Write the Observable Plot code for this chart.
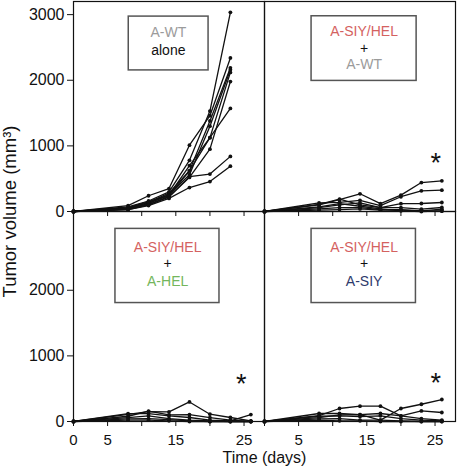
<!DOCTYPE html>
<html><head><meta charset="utf-8">
<script src="https://cdn.jsdelivr.net/npm/d3@7"></script>
<script src="https://cdn.jsdelivr.net/npm/@observablehq/plot@0.6"></script>
<style>
body{margin:0;background:#fff}
#chart svg{font-family:"Liberation Sans",Arial,Helvetica,sans-serif;overflow:visible}
</style>
</head><body><div id="chart"></div>
<script>
// ---- data ----
const panelCols = ["left", "right", "left", "right"];
const panelRows = ["top", "top", "bottom", "bottom"];
const daysWT = [0, 8, 11, 14, 17, 20, 23];
const daysMix = [0, 8, 11, 14, 17, 20, 23, 26];
const volWTalone = [
  [0, 70, 160, 300, 780, 1530, 3035],
  [0, 90, 240, 350, 1010, 1460, 2340],
  [0, 50, 140, 280, 620, 1380, 2190],
  [0, 40, 120, 260, 560, 1300, 2160],
  [0, 60, 150, 250, 700, 1125, 2120],
  [0, 30, 100, 220, 520, 950, 1980],
  [0, 50, 130, 240, 620, 1125, 1570],
  [0, 40, 110, 230, 530, 570, 840],
  [0, 30, 90, 200, 365, 456, 690]
];
const volPlusWT = [
  [0, 100, 180, 270, 120, 250, 441, 467],
  [0, 130, 140, 170, 90, 225, 315, 325],
  [0, 60, 100, 130, 60, 120, 122, 137],
  [0, 110, 190, 100, 60, 60, 36, 61],
  [0, 40, 60, 60, 30, 30, 10, 36],
  [0, 20, 30, 40, 20, 20, 10, 5],
  [0, 70, 120, 80, 40, 10, 0, 10]
];
const volPlusHEL = [
  [0, 110, 150, 146, 298, 111, 61, 10],
  [0, 80, 157, 100, 106, 60, 20, 0],
  [0, 120, 120, 86, 61, 20, 10, 106],
  [0, 60, 86, 45, 20, 10, 0, 0],
  [0, 40, 45, 30, 10, 0, 0, 0],
  [0, 20, 20, 10, 0, 0, 0, 0]
];
const volPlusSIY = [
  [0, 90, 198, 233, 233, 86, 45, 20],
  [0, 60, 100, 106, 20, 198, 263, 335],
  [0, 122, 122, 106, 122, 86, 161, 137],
  [0, 80, 86, 75, 86, 45, 20, 10],
  [0, 40, 45, 20, 20, 10, 0, 0],
  [0, 20, 10, 10, 0, 0, 0, 0]
];
const panelDays = [daysWT, daysMix, daysMix, daysMix];
const panelVols = [volWTalone, volPlusWT, volPlusHEL, volPlusSIY];

const yTicksTop = [0, 1000, 2000, 3000];
const yTicksBottom = [0, 1000, 2000];
const xTicks = [0, 5, 10, 15, 20, 25];
const xLabelsLeft = [0, 5, 15, 25];
const xLabelsRight = [5, 15, 25];

const legendTexts = [
  [["A-WT", "#9b9b9b"], ["alone", "#111"]],
  [["A-SIY/HEL", "#d4625f"], ["+", "#111"], ["A-WT", "#9b9b9b"]],
  [["A-SIY/HEL", "#d4625f"], ["+", "#111"], ["A-HEL", "#74b65c"]],
  [["A-SIY/HEL", "#d4625f"], ["+", "#111"], ["A-SIY", "#2e3a6c"]]
];
const starPanels = [1, 2, 3];

// ---- annotation layout (data units) ----
const legendBoxLayout = [
  {x1: 8.1, x2: 19.8, y1: 2150, y2: 2970, cx: 13.9, ys: [2720, 2460]},
  {x1: 6.9, x2: 22.3, y1: 1990, y2: 2975, cx: 14.6, ys: [2745, 2490, 2235]},
  {x1: 6.15, x2: 21.4, y1: 1805, y2: 2935, cx: 13.8, ys: [2655, 2400, 2135]},
  {x1: 6.9, x2: 22.2, y1: 1805, y2: 2935, cx: 14.6, ys: [2655, 2400, 2135]}
];
const starLayout = {1: [25.1, 730], 2: [24.6, 565], 3: [25.1, 580]};

// ---- build tables ----
const rows = [];
panelVols.forEach((mice, p) => {
  mice.forEach((vals, m) => {
    vals.forEach((v, i) => rows.push({
      panel: p, mouse: m, col: panelCols[p], row: panelRows[p],
      day: panelDays[p][i], volume: v
    }));
  });
});
const boxes = legendBoxLayout.map((b, p) => ({...b, col: panelCols[p], row: panelRows[p]}));
const legendLines = [];
legendTexts.forEach((lines, p) => lines.forEach(([t, c], i) => legendLines.push({
  text: t, color: c, col: panelCols[p], row: panelRows[p],
  x: legendBoxLayout[p].cx, y: legendBoxLayout[p].ys[i]
})));
const stars = starPanels.map(p => ({col: panelCols[p], row: panelRows[p], x: starLayout[p][0], y: starLayout[p][1]}));

const fs = 15;
const chart = Plot.plot({
  width: 457,
  height: 467,
  marginTop: 1,
  marginLeft: 73,
  marginRight: 2,
  marginBottom: 46,
  style: {fontFamily: "Liberation Sans, Arial, sans-serif", fontSize: "15px", color: "#111"},
  x: {domain: [0, 28]},
  y: {domain: [0, 3200]},
  fx: {domain: ["left", "right"], padding: 0, axis: null},
  fy: {domain: ["top", "bottom"], padding: 0, axis: null},
  marks: [
    Plot.rect(boxes, {x1: "x1", x2: "x2", y1: "y1", y2: "y2", fx: "col", fy: "row", fill: "white", stroke: "#555", strokeWidth: 1.5}),
    Plot.text(legendLines, {x: "x", y: "y", text: "text", fill: "color", fx: "col", fy: "row", fontSize: 14}),
    Plot.text(stars, {x: "x", y: "y", text: () => "*", fx: "col", fy: "row", fontSize: 27, fill: "#111"}),
    Plot.line(rows, {x: "day", y: "volume", z: d => d.panel + "-" + d.mouse, fx: "col", fy: "row", stroke: "#111", strokeWidth: 1.3}),
    Plot.dot(rows, {x: "day", y: "volume", fx: "col", fy: "row", r: 1.9, fill: "#111", stroke: null}),
    Plot.frame({stroke: "#111", strokeWidth: 1.2}),
    Plot.axisY(yTicksTop, {fy: () => "top", anchor: "left", tickSize: 6, tickPadding: 3, fontSize: 16, tickFormat: d => String(d), label: null}),
    Plot.axisY(yTicksBottom, {fy: () => "bottom", anchor: "left", tickSize: 6, tickPadding: 3, fontSize: 16, tickFormat: d => String(d), label: null}),
    Plot.axisX(xTicks, {anchor: "bottom", facetAnchor: null, tickSize: 5, fill: "none", label: null}),
    Plot.axisX(xLabelsLeft, {fx: () => "left", fy: () => "bottom", anchor: "bottom", tickSize: 0, tickPadding: 13, fontSize: fs, tickFormat: d => String(d), label: null}),
    Plot.axisX(xLabelsRight, {fx: () => "right", fy: () => "bottom", anchor: "bottom", tickSize: 0, tickPadding: 13, fontSize: fs, tickFormat: d => String(d), label: null}),
    Plot.text(["Time (days)"], {frameAnchor: "bottom", lineAnchor: "middle", dy: 36, facet: "super", fontSize: 16, fill: "#111"}),
    Plot.text(["Tumor volume (mm³)"], {fx: () => "left", fy: () => "top", frameAnchor: "bottom-left", textAnchor: "middle", lineAnchor: "middle", dx: -63, rotate: -90, fontSize: 18.5, fill: "#111"})
  ]
});
document.getElementById("chart").append(chart);
</script>
</body></html>
